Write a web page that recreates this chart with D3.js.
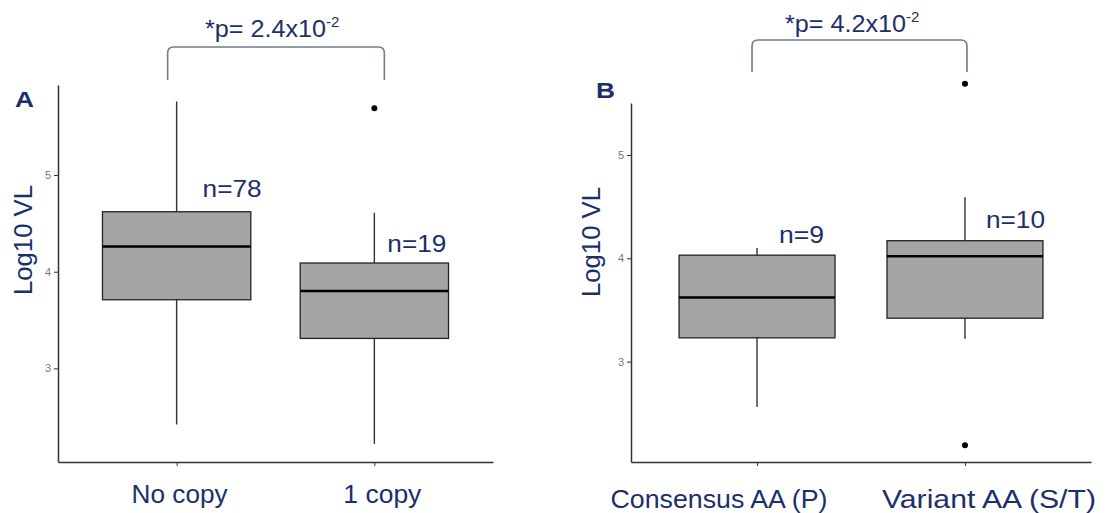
<!DOCTYPE html>
<html lang="en">
<head>
  <meta charset="UTF-8">
  <title>Log10 VL box plots</title>
  <style>
    body{ margin: 0; background: #fff; }
    text{ font-family: "Liberation Sans", Arial, sans-serif; }
    .navy{ fill: #1b2f6b; }
    .tick text{ fill: #777; font-size: 11px; }
    .tick line, .domain{ stroke: #333; }
  </style>
</head>
<body>
  <script src="https://cdn.jsdelivr.net/npm/d3@7"></script>
  <script>
    // panel A
    const catsA = ["No copy", "1 copy"];
    const loA = [2.42, 2.22];
    const q1A = [3.71, 3.31];
    const medA = [4.26, 3.80];
    const q3A = [4.62, 4.09];
    const hiA = [5.76, 4.61];
    const outA = [[], [5.69]];
    const nA = [78, 19];
    const nPosA = [4.77, 4.20];   // y (log10) of the n= labels
    // panel B
    const catsB = ["Consensus AA (P)", "Variant AA (S/T)"];
    const loB = [2.56, 3.22];
    const q1B = [3.23, 3.42];
    const medB = [3.62, 4.02];
    const q3B = [4.03, 4.17];
    const hiB = [4.10, 4.59];
    const outB = [[], [5.69, 2.19]];
    const nB = [9, 10];
    const nPosB = [4.15, 4.29];
    const yTicks = [3, 4, 5];
    const pA = "2.4", pB = "4.2", pExp = "-2";

    const width = 1109, height = 513;
    const svg = d3.select('body').append('svg')
      .attr('width', width).attr('height', height);

    function fitText(sel, len){
      return sel.attr('textLength', len).attr('lengthAdjust', 'spacingAndGlyphs');
    }

    function panel(o){
      const x = d3.scalePoint().domain(o.cats).range(o.xr).padding(o.pad);
      const y = d3.scaleLinear().domain(o.yd).range([462, o.top]);
      const bw = x.step() * 0.75;
      const g = svg.append('g');

      // axes
      g.append('g').attr('transform', 'translate(' + o.xr[0] + ',0)')
        .call(d3.axisLeft(y).tickValues(yTicks).tickFormat(d3.format('d'))
          .tickSize(4).tickSizeOuter(0).tickPadding(3))
        .call(s => s.select('.domain').attr('stroke-width', 1.5));
      g.append('g').attr('transform', 'translate(0,462)')
        .call(d3.axisBottom(x).tickSize(4).tickSizeOuter(0).tickFormat(''))
        .call(s => s.select('.domain').attr('stroke-width', 1.5));

      const rows = o.cats.map((c, i) => ({c: c, i: i}));
      const b = g.selectAll('g.box').data(rows).enter().append('g');
      b.append('line')
        .attr('x1', d => x(d.c)).attr('x2', d => x(d.c))
        .attr('y1', d => y(o.lo[d.i])).attr('y2', d => y(o.hi[d.i]))
        .attr('stroke', '#333').attr('stroke-width', 1.4);
      b.append('rect')
        .attr('x', d => x(d.c) - bw / 2).attr('width', bw)
        .attr('y', d => y(o.q3[d.i]))
        .attr('height', d => y(o.q1[d.i]) - y(o.q3[d.i]))
        .attr('fill', '#a5a5a5').attr('stroke', '#222').attr('stroke-width', 1.3);
      b.append('line')
        .attr('x1', d => x(d.c) - bw / 2).attr('x2', d => x(d.c) + bw / 2)
        .attr('y1', d => y(o.med[d.i])).attr('y2', d => y(o.med[d.i]))
        .attr('stroke', '#000').attr('stroke-width', 2.6);
      b.selectAll('circle').data(d => o.out[d.i].map(v => ({c: d.c, v: v})))
        .enter().append('circle')
        .attr('cx', d => x(d.c)).attr('cy', d => y(d.v)).attr('r', 3).attr('fill', '#000');

      // n labels
      b.append('text').attr('class', 'navy')
        .attr('x', d => x(d.c) + o.nOff[d.i]).attr('y', d => y(o.nPos[d.i]))
        .attr('font-size', 23).text(d => 'n=' + o.n[d.i])
        .each(function(d){ fitText(d3.select(this), String(o.n[d.i]).length > 1 ? 59 : 45); });

      // category labels
      g.selectAll('text.cat').data(rows).enter().append('text')
        .attr('class', 'navy cat').attr('text-anchor', 'middle')
        .attr('x', d => x(d.c) + o.catOff[d.i]).attr('y', o.catY)
        .attr('font-size', 25).text(d => d.c)
        .each(function(d){ fitText(d3.select(this), o.catLen[d.i]); });

      // y title and panel letter
      fitText(g.append('text').attr('class', 'navy').attr('text-anchor', 'middle')
        .attr('transform', 'translate(' + o.titleX + ',' + o.titleY + ') rotate(-90)')
        .attr('font-size', 26).text('Log10 VL'), 110);
      fitText(g.append('text').attr('class', 'navy').attr('x', o.letterX).attr('y', o.letterY)
        .attr('font-size', 22).attr('font-weight', 'bold').text(o.letter), 19);

      // significance bracket
      const bx0 = x(o.cats[0]) - o.brOut[0], bx1 = x(o.cats[1]) + o.brOut[1];
      const r = 6;
      g.append('path')
        .attr('d', 'M' + bx0 + ',' + o.brBot + 'V' + (o.brTop + r) +
          'Q' + bx0 + ',' + o.brTop + ' ' + (bx0 + r) + ',' + o.brTop +
          'H' + (bx1 - r) + 'Q' + bx1 + ',' + o.brTop + ' ' + bx1 + ',' + (o.brTop + r) +
          'V' + o.brBot)
        .attr('fill', 'none').attr('stroke', '#6e7c8b').attr('stroke-width', 1.6);
      const t = g.append('text').attr('class', 'navy').attr('x', o.pX).attr('y', o.pY)
        .attr('font-size', 23);
      fitText(t.append('tspan').text('*p= ' + o.p + 'x10'), 121);
      t.append('tspan').attr('dy', -10).attr('font-size', 15).text(pExp);
    }

    panel({
      cats: catsA, lo: loA, q1: q1A, med: medA, q3: q3A, hi: hiA, out: outA,
      n: nA, nPos: nPosA, nOff: [26, 13],
      xr: [58, 493], pad: 0.6, yd: [2.032, 5.931], top: 85,
      catOff: [3, 8], catY: 503, catLen: [96, 78],
      titleX: 32, titleY: 240, letter: 'A', letterX: 15, letterY: 107,
      brOut: [9, 10], brTop: 47, brBot: 80, p: pA, pX: 205, pY: 37
    });
    panel({
      cats: catsB, lo: loB, q1: q1B, med: medB, q3: q3B, hi: hiB, out: outB,
      n: nB, nPos: nPosB, nOff: [22, 21],
      xr: [631, 1091], pad: 0.606, yd: [2.028, 5.503], top: 103,
      catOff: [-38, 24], catY: 508, catLen: [217, 214],
      titleX: 600, titleY: 242, letter: 'B', letterX: 596, letterY: 98,
      brOut: [5, 2], brTop: 40, brBot: 72, p: pB, pX: 785, pY: 32
    });
  </script>
</body>
</html>
